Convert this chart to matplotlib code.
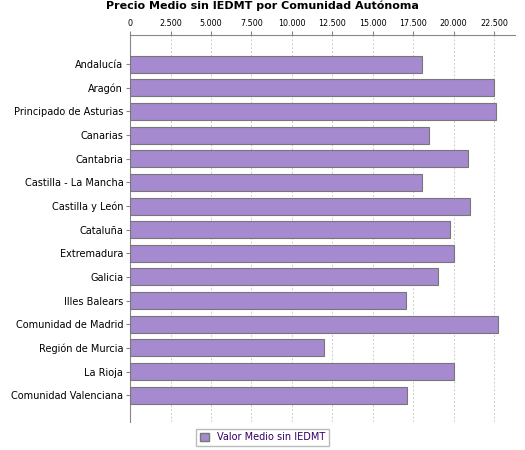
import matplotlib
matplotlib.use("Agg")
import matplotlib.pyplot as plt

regions = ["Andalucía","Aragón","Principado de Asturias","Canarias","Cantabria",
           "Castilla - La Mancha","Castilla y León","Cataluña","Extremadura","Galicia",
           "Illes Balears","Comunidad de Madrid","Región de Murcia","La Rioja","Comunidad Valenciana"]
values = [18050,22500,22600,18480,20890,18050,21010,19780,20020,19040,17060,22740,11990,20020,17120]
ticks = list(range(0, 22501, 2500))
tick_labels = ["0","2.500","5.000","7.500","10.000","12.500","15.000","17.500","20.000","22.500"]

fig = plt.figure(figsize=(5.25,4.5), dpi=100)
ax = fig.add_axes([0.248,0.062,0.733,0.86])
ax.barh(range(len(regions)), values, height=0.72, color="#a58ad0", edgecolor="#777777", linewidth=0.8, zorder=3)
ax.set_xlim(0, 23800)
ax.set_ylim(len(regions)-1+1.14, -1.23)
ax.set_yticks(range(len(regions)))
ax.set_yticklabels(regions, fontsize=7)
ax.xaxis.tick_top()
ax.set_xticks(ticks)
ax.set_xticklabels(tick_labels, fontsize=5.8)
ax.tick_params(axis='both', length=3, color="#888888", pad=2)
ax.grid(axis='x', linestyle=(0,(2,2)), color="#cccccc", linewidth=0.7, zorder=0)
for s in ["right","bottom"]:
    ax.spines[s].set_visible(False)
ax.spines["top"].set_color("#888888")
ax.spines["left"].set_color("#888888")
fig.text(0.5, 0.998, "Precio Medio sin IEDMT por Comunidad Autónoma", ha="center", va="top", fontsize=8, fontweight="bold")
h = plt.Rectangle((0,0),1,1, facecolor="#a58ad0", edgecolor="#777777")
fig.legend([h], ["Valor Medio sin IEDMT"], loc="center", bbox_to_anchor=(0.5,0.028), fontsize=7,
           frameon=True, fancybox=False, edgecolor="#aaaaaa", handlelength=0.9, handleheight=0.9, labelcolor="#330066")
fig.savefig("out.png", dpi=100)
